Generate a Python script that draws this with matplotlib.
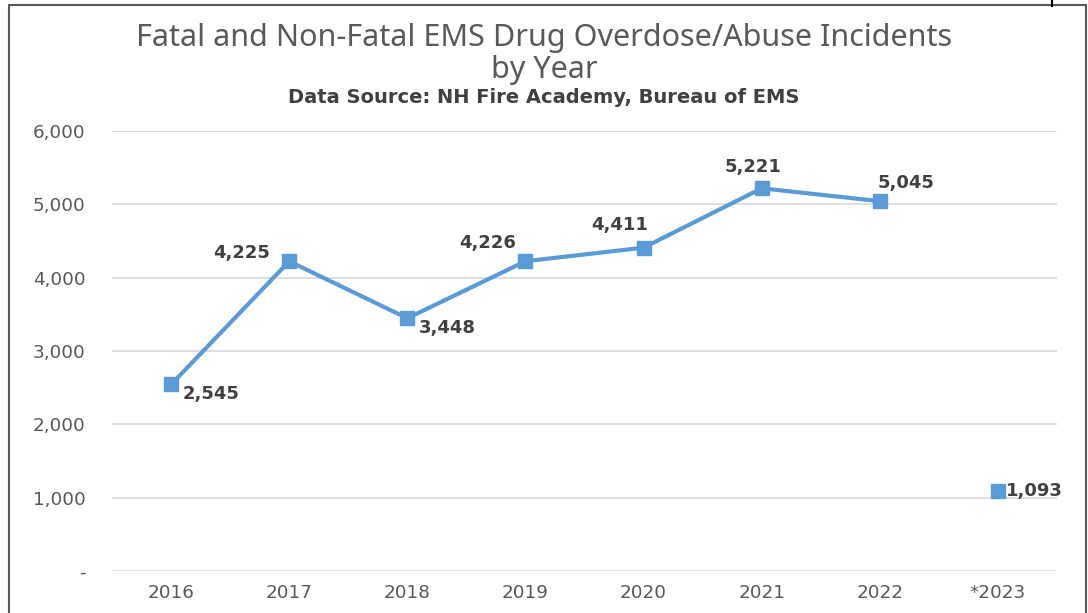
import matplotlib.pyplot as plt
from matplotlib.patches import Rectangle
from matplotlib.lines import Line2D
from matplotlib.ticker import FuncFormatter

years = ["2016", "2017", "2018", "2019", "2020", "2021", "2022", "*2023"]
incidents = [2545, 4225, 3448, 4226, 4411, 5221, 5045, 1093]
# label offsets in points (dx, dy) and alignment, per point
label_offsets = [(8, -7), (-14, 6), (8, -7), (-7, 13), (-17, 16), (-6, 15), (19, 13), (6, 0)]
label_ha = ["left", "right", "left", "right", "center", "center", "center", "left"]

blue = "#5B9BD5"
text_dark = "#404040"
tick_gray = "#595959"

fig = plt.figure(figsize=(10.88, 6.13), dpi=100)
ax = fig.add_axes([0.103, 0.0685, 0.8685, 0.7175])

x = list(range(len(years)))
# 2016-2022 connected, partial 2023 shown alone
ax.plot(x[:7], incidents[:7], color=blue, lw=3, marker="s", ms=9.5, zorder=3)
ax.plot(x[7:], incidents[7:], color=blue, lw=0, marker="s", ms=9.5, zorder=3)

for i, v in enumerate(incidents):
    ax.annotate(f"{v:,}", (x[i], v), xytext=label_offsets[i], textcoords="offset points",
                ha=label_ha[i], va="center", fontsize=13, fontweight="bold",
                color=text_dark, family="DejaVu Sans")

ax.set_xlim(-0.5, len(years) - 0.5)
ax.set_ylim(0, 6000)
ax.set_yticks(range(0, 6001, 1000))
ax.yaxis.set_major_formatter(FuncFormatter(lambda v, p: "-" if v == 0 else f"{int(v):,}"))
ax.set_xticks(x)
ax.set_xticklabels(years)
ax.tick_params(axis="both", length=0, labelsize=13.2, labelcolor=tick_gray)
ax.tick_params(axis="x", pad=9)
ax.tick_params(axis="y", pad=19)
ax.grid(axis="y", color="#D9D9D9", lw=1.2)
ax.set_axisbelow(True)
for s in ax.spines.values():
    s.set_visible(False)

fig.text(0.5, 0.938, "Fatal and Non-Fatal EMS Drug Overdose/Abuse Incidents", ha="center", va="center",
         fontsize=22, color="#595959", family="Noto Sans")
fig.text(0.5, 0.886, "by Year", ha="center", va="center",
         fontsize=22, color="#595959", family="Noto Sans")
fig.text(0.5, 0.841, "Data Source: NH Fire Academy, Bureau of EMS", ha="center", va="center",
         fontsize=14, fontweight="bold", color=text_dark, family="DejaVu Sans")

# outer chart border
fig.patches.append(Rectangle((9 / 1088, -0.05), 1077 / 1088, 1 - 5 / 613 + 0.05,
                             transform=fig.transFigure, fill=False, ec="#595959", lw=1.5))
fig.lines.append(Line2D([1052 / 1088, 1052 / 1088], [1, 1 - 6 / 613], transform=fig.transFigure,
                        color="black", lw=1.5))

fig.savefig("out.png", dpi=100)
